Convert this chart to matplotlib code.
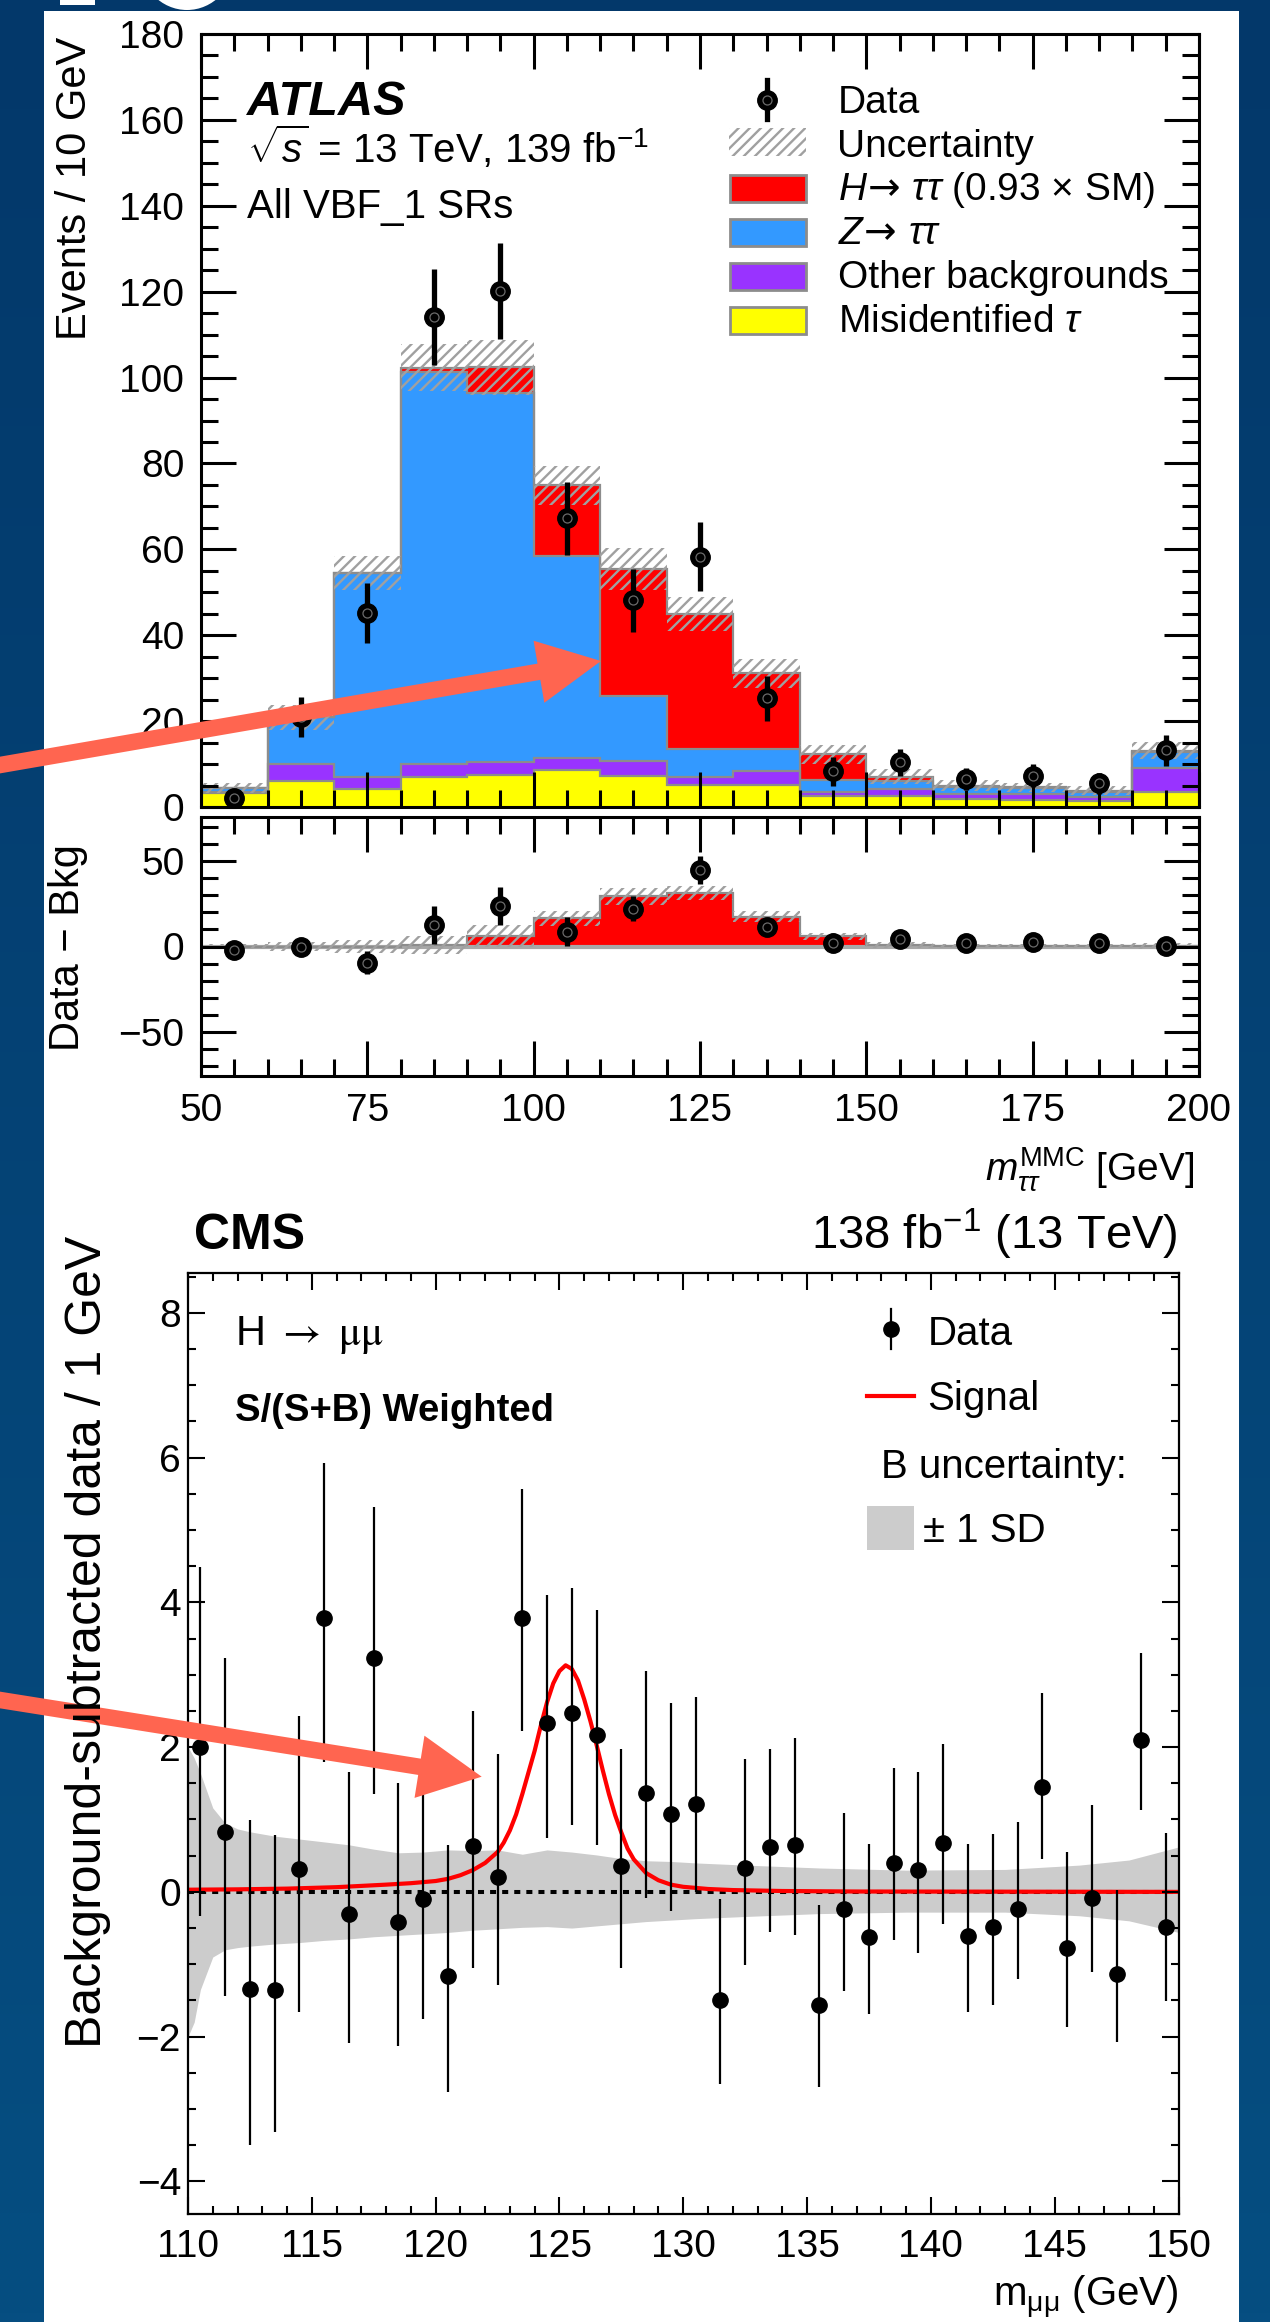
import numpy as np
import matplotlib
matplotlib.use("Agg")
import matplotlib.pyplot as plt
from matplotlib.patches import Rectangle, Ellipse, FancyArrow
from matplotlib.lines import Line2D
from matplotlib.colors import LinearSegmentedColormap
from matplotlib.ticker import MultipleLocator

# ---------------- ATLAS H->tautau data ----------------
atlas_edges = [50, 60, 70, 80, 90, 100, 110, 120, 130, 140, 150, 160, 170, 180, 190, 200]
atlas_centers = [55, 65, 75, 85, 95, 105, 115, 125, 135, 145, 155, 165, 175, 185, 195]
misid = [3.3, 6.0, 4.3, 7.0, 7.5, 8.7, 7.2, 5.2, 5.2, 2.6, 2.6, 1.8, 1.7, 1.5, 3.4]
other_bkg = [0.3, 3.9, 2.7, 2.9, 3.0, 2.7, 3.4, 1.9, 3.1, 1.0, 1.5, 1.2, 1.3, 0.8, 5.7]
ztautau = [0.9, 11.0, 47.5, 91.5, 85.9, 47.0, 15.3, 6.4, 5.3, 2.7, 2.0, 1.6, 1.4, 1.3, 3.7]
htautau = [0.0, 0.0, 0.0, 0.9, 6.0, 16.5, 29.5, 31.5, 17.5, 6.0, 1.0, 0.4, 0.2, 0.2, 0.3]
stack_unc = [1.2, 2.9, 4.0, 5.5, 6.4, 4.6, 4.9, 4.0, 3.4, 2.2, 1.8, 1.2, 1.0, 1.0, 2.0]
atlas_data = [2.2, 21.0, 45.1, 114.1, 120.2, 67.2, 48.1, 58.3, 25.3, 8.3, 10.4, 6.5, 7.3, 5.5, 13.2]
atlas_data_err = [1.5, 4.6, 7.0, 11.2, 11.2, 8.5, 7.3, 8.1, 5.3, 3.4, 3.2, 2.6, 2.7, 2.4, 3.6]
atlas_diff = [-2.3, 0.0, -9.4, 12.7, 23.8, 8.8, 22.2, 44.8, 11.7, 1.9, 4.3, 1.9, 2.9, 1.9, 0.4]

# ---------------- CMS H->mumu data ----------------
cms_x = [110.5, 111.5, 112.5, 113.5, 114.5, 115.5, 116.5, 117.5, 118.5, 119.5,
         120.5, 121.5, 122.5, 123.5, 124.5, 125.5, 126.5, 127.5, 128.5, 129.5,
         130.5, 131.5, 132.5, 133.5, 134.5, 135.5, 136.5, 137.5, 138.5, 139.5,
         140.5, 141.5, 142.5, 143.5, 144.5, 145.5, 146.5, 147.5, 148.5, 149.5]
cms_y = [2.00, 0.83, -1.34, -1.36, 0.31, 3.79, -0.30, 3.23, -0.41, -0.10,
         -1.16, 0.63, 0.21, 3.78, 2.33, 2.47, 2.17, 0.36, 1.37, 1.08,
         1.22, -1.49, 0.33, 0.62, 0.65, -1.56, -0.24, -0.62, 0.40, 0.30,
         0.67, -0.61, -0.49, -0.24, 1.45, -0.78, -0.09, -1.13, 2.10, -0.49]
cms_top = [4.49, 3.23, 0.99, 0.78, 2.43, 5.93, 1.66, 5.31, 1.50, 1.35,
           0.65, 2.50, 1.90, 5.57, 4.10, 4.20, 3.90, 1.98, 3.05, 2.61,
           2.69, -0.10, 1.84, 1.97, 2.13, -0.18, 1.09, 0.66, 1.71, 1.65,
           2.04, 0.66, 0.80, 0.97, 2.75, 0.55, 1.20, 0.03, 3.30, 0.81]
cms_bottom = [-0.33, -1.44, -3.50, -3.32, -1.66, 1.80, -2.09, 1.35, -2.13, -1.75,
              -2.76, -1.05, -1.28, 2.22, 0.75, 0.92, 0.65, -1.05, -0.08, -0.26,
              0.00, -2.65, -1.01, -0.55, -0.59, -2.70, -1.37, -1.69, -0.67, -0.84,
              -0.45, -1.66, -1.56, -1.21, 0.45, -1.86, -1.10, -2.07, 1.13, -1.51]
sig_x = [110, 112, 114, 116, 118, 119, 120, 120.5, 121, 121.5, 122, 122.5, 122.75,
         123, 123.25, 123.5, 123.75, 124, 124.25, 124.5, 124.75, 125, 125.25, 125.5,
         125.75, 126, 126.25, 126.5, 126.75, 127, 127.25, 127.5, 127.75, 128, 128.5,
         129, 129.5, 130, 131, 132, 134, 137, 150]
sig_y = [0.03, 0.035, 0.045, 0.065, 0.10, 0.12, 0.15, 0.18, 0.23, 0.30, 0.40, 0.55, 0.68,
         0.85, 1.07, 1.35, 1.65, 1.95, 2.30, 2.62, 2.88, 3.05, 3.13, 3.08,
         2.92, 2.66, 2.36, 2.03, 1.68, 1.35, 1.06, 0.82, 0.60, 0.45, 0.26,
         0.16, 0.10, 0.07, 0.04, 0.025, 0.012, 0.005, 0.0]
band_x = [110, 110.25, 110.5, 111, 111.5, 112, 112.5, 113.5, 114.5, 115.5, 116.5, 117.5,
          118.5, 119.5, 120.5, 121.5, 122.5, 123.5, 124.5, 125.5, 126.5, 127.5, 128.5,
          129.5, 130.5, 132.5, 135.5, 139, 143, 146, 148, 150]
band_hi = [2.0, 1.85, 1.64, 1.16, 0.95, 0.87, 0.83, 0.77, 0.73, 0.69, 0.65, 0.59,
           0.54, 0.55, 0.58, 0.57, 0.58, 0.52, 0.58, 0.55, 0.51, 0.46, 0.43,
           0.42, 0.40, 0.37, 0.33, 0.30, 0.31, 0.37, 0.44, 0.62]
band_lo = [-2.0, -1.8, -1.35, -0.9, -0.8, -0.77, -0.75, -0.72, -0.7, -0.67, -0.65, -0.62,
           -0.6, -0.58, -0.56, -0.53, -0.51, -0.49, -0.48, -0.5, -0.47, -0.44, -0.41,
           -0.39, -0.37, -0.34, -0.30, -0.28, -0.28, -0.33, -0.40, -0.56]

# ---------------- style ----------------
plt.rcParams['font.family'] = ['Liberation Sans', 'DejaVu Sans']
plt.rcParams['mathtext.fontset'] = 'custom'
plt.rcParams['mathtext.rm'] = 'Liberation Sans'
plt.rcParams['mathtext.it'] = 'Liberation Sans:italic'
plt.rcParams['mathtext.bf'] = 'Liberation Sans:bold'
plt.rcParams['mathtext.sf'] = 'DejaVu Sans'
plt.rcParams['hatch.linewidth'] = 1.7

RED, BLUE, PURPLE, YELLOW = '#FF0000', '#3399FF', '#9933FF', '#FFFF00'
EDGE = '#8c8c8c'
HATCH = '#a0a0a0'
ARROW = '#FF6550'
HPAT = '///'

W, H = 1270, 2322
fig = plt.figure(figsize=(W / 100, H / 100), dpi=100)


def rect(l, t, r, b):
    return [l / W, 1 - b / H, (r - l) / W, (b - t) / H]


# ---------------- background ----------------
bg = fig.add_axes([0, 0, 1, 1], zorder=-10)
cmap = LinearSegmentedColormap.from_list('bgc', ['#03386a', '#064e81'])
bg.imshow(np.linspace(0, 1, 256)[:, None], cmap=cmap, extent=(0, W, H, 0), aspect='auto')
bg.add_patch(Rectangle((44, 11), 1239 - 44, H, color='white', lw=0))
bg.add_patch(Rectangle((60, -5), 35, 10, color='white', lw=0))
bg.add_patch(Ellipse((187, -40), 95, 100, color='white', lw=0))
bg.set_xlim(0, W)
bg.set_ylim(H, 0)
bg.axis('off')

# ---------------- ATLAS panels ----------------
axm = fig.add_axes(rect(201, 34, 1199, 807))
axr = fig.add_axes(rect(201, 817, 1199, 1076))

edges = np.array(atlas_edges, dtype=float)
centers = np.array(atlas_centers, dtype=float)
cum = np.zeros(len(centers))
tops = []
for vals, col in [(misid, YELLOW), (other_bkg, PURPLE), (ztautau, BLUE), (htautau, RED)]:
    top = cum + np.array(vals)
    axm.stairs(top, edges, baseline=cum, fill=True, color=col, lw=0, zorder=1)
    tops.append(top)
    cum = top
for top in tops:
    axm.stairs(top, edges, baseline=None, color=EDGE, lw=1.6, zorder=1.2)
total = cum
unc = np.array(stack_unc)
axm.bar(centers, 2 * unc, bottom=total - unc, width=10, facecolor='none',
        edgecolor=HATCH, hatch=HPAT, linewidth=0, zorder=1.5)
axm.errorbar(centers, atlas_data, yerr=atlas_data_err, fmt='o', color='black',
             ms=14, elinewidth=3.8, capsize=0, zorder=3)
axm.plot(centers, atlas_data, 'o', ms=6.5, mfc='none', mec='#6a6a6a', mew=0.9, zorder=3.1)

# ratio panel
hsig = np.array(htautau)
axr.stairs(hsig, edges, baseline=0, fill=True, color=RED, lw=0, zorder=1)
axr.stairs(hsig, edges, baseline=None, color=EDGE, lw=1.6, zorder=1.2)
axr.axhline(0, color='#a8a8a8', lw=3.0, zorder=1.1)
axr.bar(centers, 2 * unc, bottom=hsig - unc, width=10, facecolor='none',
        edgecolor=HATCH, hatch=HPAT, linewidth=0, zorder=1.5)
axr.errorbar(centers, atlas_diff, yerr=atlas_data_err, fmt='o', color='black',
             ms=14, elinewidth=3.8, capsize=0, zorder=3)
axr.plot(centers, atlas_diff, 'o', ms=6.5, mfc='none', mec='#6a6a6a', mew=0.9, zorder=3.1)

for ax in (axm, axr):
    ax.set_axisbelow(False)
    ax.set_xlim(50, 200)
    ax.xaxis.set_major_locator(MultipleLocator(25))
    ax.xaxis.set_minor_locator(MultipleLocator(5))
    ax.tick_params(which='both', direction='in', top=True, right=True, width=2.2,
                   labelsize=28, pad=12)
    ax.tick_params(which='major', length=25)
    ax.tick_params(which='minor', length=12.5)
    for s in ax.spines.values():
        s.set_linewidth(2.2)
axm.set_ylim(0, 180)
axm.yaxis.set_major_locator(MultipleLocator(20))
axm.yaxis.set_minor_locator(MultipleLocator(5))
axm.tick_params(labelbottom=False)
axr.set_ylim(-76, 76)
axr.yaxis.set_major_locator(MultipleLocator(50))
axr.yaxis.set_minor_locator(MultipleLocator(10))

# ---------------- CMS panel ----------------
axc = fig.add_axes(rect(188, 1272.6, 1178.5, 2214))
axc.fill_between(band_x, band_lo, band_hi, color='#cccccc', lw=0, zorder=1)
axc.axhline(0, color='black', lw=2.9, ls=(0, (1.5, 1.5)), zorder=1.6)
axc.plot(sig_x, sig_y, color='#ff0000', lw=3.0, zorder=1.8)
cy = np.array(cms_y)
yerr = [cy - np.array(cms_bottom), np.array(cms_top) - cy]
axc.errorbar(cms_x, cy, yerr=yerr, fmt='o', color='black', ms=11, elinewidth=1.6,
             capsize=0, zorder=3)
axc.set_axisbelow(False)
axc.set_xlim(110, 150)
axc.set_ylim(-4.45, 8.555)
axc.xaxis.set_major_locator(MultipleLocator(5))
axc.xaxis.set_minor_locator(MultipleLocator(1))
axc.yaxis.set_major_locator(MultipleLocator(2))
axc.yaxis.set_minor_locator(MultipleLocator(0.5))
axc.tick_params(which='both', direction='in', top=True, right=True, width=1.5, labelsize=28)
axc.tick_params(which='major', length=12.5)
axc.tick_params(which='minor', length=6)
axc.tick_params(axis='x', pad=11)
axc.tick_params(axis='y', pad=5)
for s in axc.spines.values():
    s.set_linewidth(1.6)

# ---------------- overlay (texts, legends, arrows) ----------------
ov = fig.add_axes([0, 0, 1, 1], zorder=20)
ov.set_xlim(0, W)
ov.set_ylim(H, 0)
ov.axis('off')
ov.patch.set_alpha(0)

# ATLAS texts
ov.text(247, 115, 'ATLAS', fontsize=35, fontweight='bold', fontstyle='italic', va='baseline')
ov.text(247, 163, r'$\sqrt{s}$ = 13 TeV, 139 fb$^{-1}$', fontsize=29, va='baseline')
ov.text(247, 218, 'All VBF_1 SRs', fontsize=29, va='baseline')
ov.text(75, 37, 'Events / 10 GeV', fontsize=30, rotation=90, ha='center', va='top')
ov.text(68, 948, 'Data \u2212 Bkg', fontsize=30, rotation=90, ha='center', va='center')
ov.text(1195, 1181, r'$m_{\tau\tau}^{\mathrm{MMC}}$ [GeV]', fontsize=28, ha='right', va='baseline')

# ATLAS legend
ov.add_line(Line2D([767, 767], [80, 119], color='black', lw=3.8))
ov.add_line(Line2D([767], [100], marker='o', ms=14, color='black', lw=0))
ov.add_line(Line2D([767], [100], marker='o', ms=6.5, mfc='none', mec='#6a6a6a', mew=0.9, lw=0))
ov.add_patch(Rectangle((728.6, 128), 77.8, 28, facecolor='none', edgecolor=HATCH, hatch=HPAT, lw=0))
for yt, col in [(175, RED), (218.5, BLUE), (263, PURPLE), (306.7, YELLOW)]:
    ov.add_patch(Rectangle((729.5, yt), 76, 27, facecolor=col, edgecolor=EDGE, lw=2.0))
leg_items = [(113.3, 'Data'), (157, 'Uncertainty'),
             (200, r'$H\!\mathsf{\rightarrow}\,\tau\tau$ (0.93 $\times$ SM)'),
             (244, r'$Z\!\mathsf{\rightarrow}\,\tau\tau$'), (288, 'Other backgrounds'),
             (331.7, r'Misidentified $\tau$')]
for yb, txt in leg_items:
    ov.text(837.5, yb, txt, fontsize=28, va='baseline')

# CMS texts
ov.text(194, 1249, 'CMS', fontsize=36, fontweight='bold', va='baseline')
ov.text(1178, 1249, r'138 fb$^{\mathregular{-1}}$ (13 TeV)', fontsize=34, ha='right', va='baseline')
ov.text(235, 1345, r'H $\rightarrow$ $\mathrm{\mu\mu}$', fontsize=30, va='baseline',
        math_fontfamily='stix')
ov.text(235, 1421, 'S/(S+B) Weighted', fontsize=27.5, fontweight='bold', va='baseline')
ov.text(88, 1641.5, 'Background-subtracted data / 1 GeV', fontsize=36, rotation=90,
        ha='center', va='center')
ov.text(1178, 2306, r'm$_{\mathrm{\mu\mu}}$ (GeV)', fontsize=29, ha='right', va='baseline')

# CMS legend
ov.add_line(Line2D([891, 891], [1309, 1349], color='black', lw=1.6))
ov.add_line(Line2D([891], [1329], marker='o', ms=11, color='black', lw=0))
ov.text(927.5, 1344.6, 'Data', fontsize=29, va='baseline')
ov.add_line(Line2D([867, 914], [1396, 1396], color='#ff0000', lw=3.0))
ov.text(927.5, 1409.6, 'Signal', fontsize=29, va='baseline')
ov.text(881, 1478.5, 'B uncertainty:', fontsize=29, va='baseline')
ov.add_patch(Rectangle((867, 1506), 47, 44, facecolor='#cccccc', lw=0))
ov.text(923, 1541.6, '\u00b1 1 SD', fontsize=29, va='baseline')

# arrows
ov.add_patch(FancyArrow(-20, 768.5, 621, -107.5, width=16.5, head_width=63, head_length=63,
                        length_includes_head=True, color=ARROW, lw=0))
ov.add_patch(FancyArrow(-20, 1696.8, 501.7, 79.9, width=16.5, head_width=63, head_length=63,
                        length_includes_head=True, color=ARROW, lw=0))

fig.savefig('out.png', dpi=100)
